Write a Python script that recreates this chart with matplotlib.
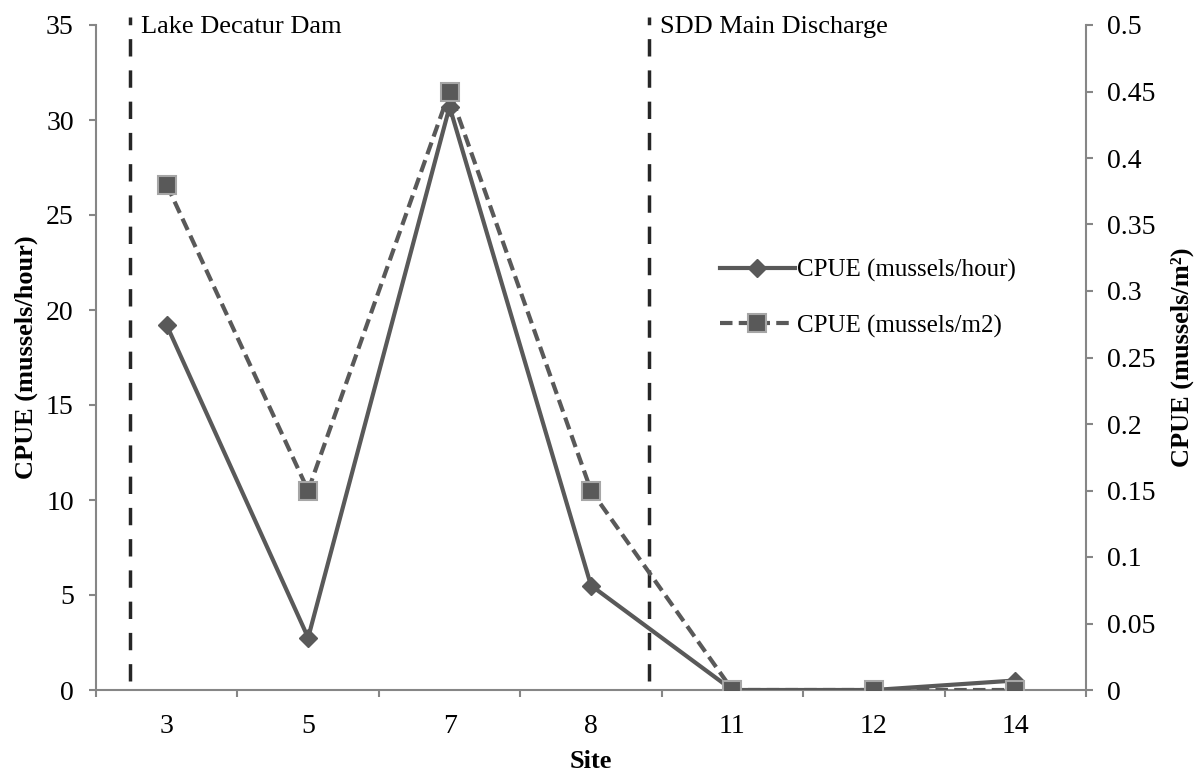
import matplotlib.pyplot as plt
import numpy as np

plt.rcParams['font.family'] = ['Liberation Serif', 'DejaVu Serif']

sites = ["3", "5", "7", "8", "11", "12", "14"]
cpue_hour = [19.2, 2.75, 30.7, 5.5, 0.0, 0.0, 0.5]
cpue_m2 = [0.38, 0.15, 0.45, 0.15, 0.0, 0.0, 0.0]
# marker positions (category units) for the two reference lines
ref_pos = [-0.26, 3.41]
ref_labels = ["Lake Decatur Dam", "SDD Main Discharge"]

LINE = "#595959"
AXC = "#868686"

fig = plt.figure(figsize=(11.96, 7.73), dpi=100)
ax = fig.add_axes([96 / 1196, 1 - 690 / 773, (1086 - 96) / 1196, (690 - 25) / 773])
ax2 = ax.twinx()

x = np.arange(len(sites))
l1, = ax.plot(x, cpue_hour, color=LINE, lw=3, marker="D", ms=9,
              mfc=LINE, mec=LINE, label="CPUE (mussels/hour)", zorder=3)
l2, = ax2.plot(x, cpue_m2, color=LINE, lw=3, ls=(0, (3, 1.5)), marker="s", ms=13,
               mfc=LINE, mec="#a6a6a6", mew=1.5, label="CPUE (mussels/m2)", zorder=4)

ax.set_xlim(-0.5, len(sites) - 0.5)
ax.set_ylim(0, 35)
ax2.set_ylim(0, 0.5)
ax.set_yticks(np.arange(0, 36, 5))
ax2.set_yticks(np.arange(0, 0.51, 0.05))
ax2.set_yticklabels(["0"] + [f"{v:g}" for v in np.arange(0.05, 0.51, 0.05).round(2)])

ax.set_xticks(x)
ax.set_xticklabels(sites)
ax.set_xticks(np.arange(-0.5, len(sites), 1), minor=True)
ax.tick_params(axis="x", which="major", length=0, pad=17, labelsize=20)
ax.tick_params(axis="x", which="minor", length=5, color=AXC, width=1.5)
ax.tick_params(axis="y", length=5, color=AXC, width=1.5, labelsize=20, pad=11)
ax2.tick_params(axis="y", length=5, color=AXC, width=1.5, labelsize=20, pad=10)

for a in (ax, ax2):
    for s in a.spines.values():
        s.set_visible(False)
ax.spines["left"].set_visible(True)
ax.spines["bottom"].set_visible(True)
ax2.spines["right"].set_visible(True)
for s in (ax.spines["left"], ax.spines["bottom"], ax2.spines["right"]):
    s.set_color(AXC)
    s.set_linewidth(1.5)

for xp, txt in zip(ref_pos, ref_labels):
    ax.plot([xp, xp], [0.5, 35.4], color="#262626", lw=2.5, ls=(0, (5, 4)),
            clip_on=False, zorder=2)
    ax.text(xp + 0.08, 35.45, txt, fontsize=19, va="top", ha="left")

ax.set_xlabel("Site", fontsize=19, fontweight="bold", labelpad=8)
ax.set_ylabel("CPUE (mussels/hour)", fontsize=19, fontweight="bold", labelpad=6)
ax2.set_ylabel("CPUE (mussels/m\u00b2)", fontsize=19, fontweight="bold", labelpad=11)

ax.legend(handles=[l1, l2], loc="center left", bbox_to_anchor=(0.63, 0.589),
          frameon=False, fontsize=18, handlelength=3.0, labelspacing=1.3,
          handletextpad=0.1, borderpad=0, borderaxespad=0)

fig.savefig("out.png", dpi=100)
